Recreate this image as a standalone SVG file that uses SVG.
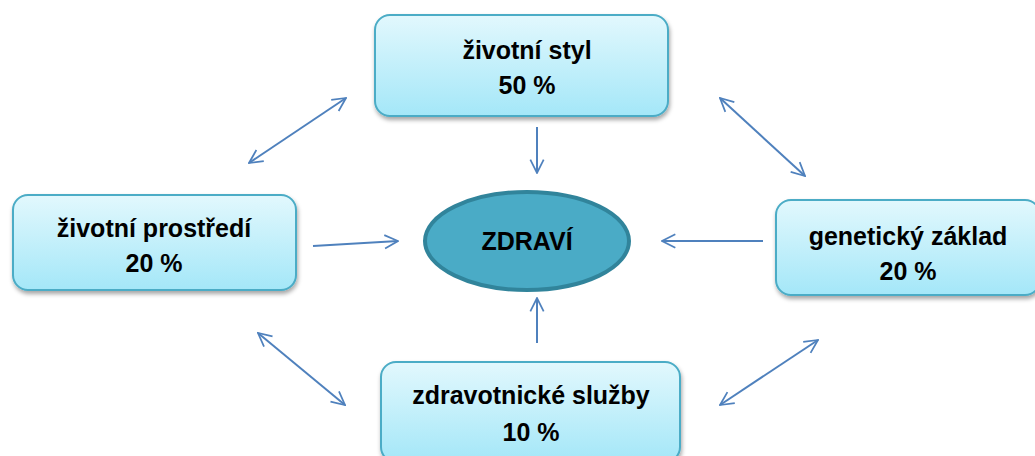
<svg xmlns="http://www.w3.org/2000/svg" width="1035" height="456" viewBox="0 0 1035 456">
<defs>
<linearGradient id="g" x1="0" y1="0" x2="0" y2="1">
<stop offset="0" stop-color="#e2f8fd"/>
<stop offset="1" stop-color="#a4e7f8"/>
</linearGradient>
<filter id="sh" x="-10%" y="-10%" width="120%" height="130%">
<feDropShadow dx="1" dy="3" stdDeviation="2" flood-color="#000" flood-opacity="0.35"/>
</filter>
<marker id="ah" viewBox="0 0 12 12" refX="11" refY="6" markerWidth="16" markerHeight="16" markerUnits="userSpaceOnUse" orient="auto-start-reverse">
<path d="M1,1 L11,6 L1,11" fill="none" stroke="#4f81bd" stroke-width="1.3"/>
</marker>
</defs>
<style>
.box{fill:url(#g);stroke:#4bacc6;stroke-width:2;filter:url(#sh)}
.t{font-family:"Liberation Sans",Arial,sans-serif;font-weight:bold;font-size:25px;fill:#000;text-anchor:middle}
.c{stroke:#4f81bd;stroke-width:2;fill:none}
</style>
<g id="connectors">
<line class="c" x1="249" y1="163" x2="346" y2="98" marker-start="url(#ah)" marker-end="url(#ah)"/>
<line class="c" x1="720" y1="98" x2="805" y2="176" marker-start="url(#ah)" marker-end="url(#ah)"/>
<line class="c" x1="258" y1="333" x2="345" y2="405" marker-start="url(#ah)" marker-end="url(#ah)"/>
<line class="c" x1="720" y1="405" x2="818" y2="340" marker-start="url(#ah)" marker-end="url(#ah)"/>
<line class="c" x1="537" y1="127" x2="537" y2="173" marker-end="url(#ah)"/>
<line class="c" x1="313" y1="246" x2="398" y2="241" marker-end="url(#ah)"/>
<line class="c" x1="763" y1="241" x2="662" y2="241" marker-end="url(#ah)"/>
<line class="c" x1="537" y1="343" x2="537" y2="298" marker-end="url(#ah)"/>
</g>
<g id="top">
<rect class="box" x="375" y="15" width="293" height="101" rx="15"/>
<text class="t" x="527" y="59">životní styl</text>
<text class="t" x="527" y="94">50 %</text>
</g>
<g id="left">
<rect class="box" x="13" y="195" width="283" height="95" rx="15"/>
<text class="t" x="154" y="237">životní prostředí</text>
<text class="t" x="154" y="272">20 %</text>
</g>
<g id="right">
<rect class="box" x="776" y="200" width="264" height="95" rx="15"/>
<text class="t" x="908" y="245">genetický základ</text>
<text class="t" x="908" y="280">20 %</text>
</g>
<g id="bottom">
<rect class="box" x="381" y="362" width="299" height="100" rx="15"/>
<text class="t" x="531" y="404">zdravotnické služby</text>
<text class="t" x="531" y="441">10 %</text>
</g>
<g id="center">
<ellipse cx="527" cy="241" rx="102" ry="49" fill="#4aabc6" stroke="#31849b" stroke-width="4"/>
<text class="t" x="527" y="250">ZDRAVÍ</text>
</g>
</svg>
